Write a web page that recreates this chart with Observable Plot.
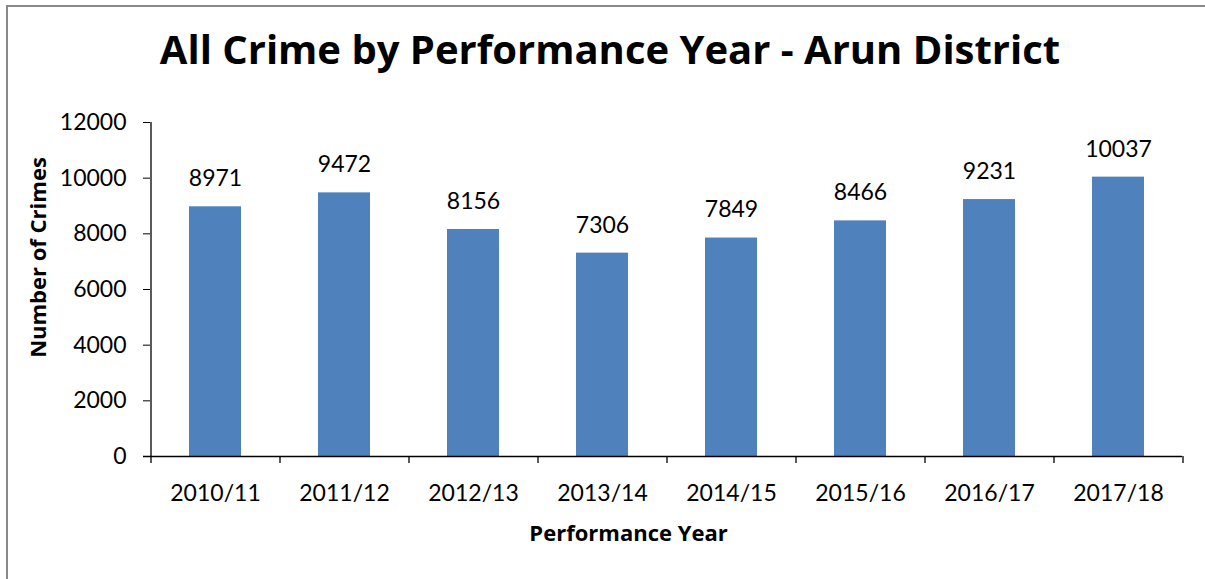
<!DOCTYPE html>
<html><head><meta charset="utf-8">
<script src="https://cdn.jsdelivr.net/npm/d3@7"></script>
<script src="https://cdn.jsdelivr.net/npm/@observablehq/plot@0.6"></script>
<style>
body{margin:0;background:#fff;}
#wrap{position:relative;width:1205px;height:579px;overflow:hidden;background:#fff;font-family:Lato,sans-serif;color:#000;}
#border{position:absolute;left:6px;top:5px;width:1400px;height:800px;border:2px solid #898989;box-sizing:border-box;z-index:2;pointer-events:none;}
#title{position:relative;height:100px;line-height:98px;text-align:center;font-family:"Open Sans",sans-serif;font-weight:bold;font-size:40px;padding-left:15px;white-space:nowrap;}
#chart{position:relative;}
</style>
</head><body>
<div id="wrap"><div id="border"></div><div id="title"></div><div id="chart"></div></div>
<script>
const categories = ["2010/11","2011/12","2012/13","2013/14","2014/15","2015/16","2016/17","2017/18"];
const crimes = [8971,9472,8156,7306,7849,8466,9231,10037];
const yTicks = [0,2000,4000,6000,8000,10000,12000];
const titleText = "All Crime by Performance Year - Arun District";
const yLabel = "Number of Crimes";
const xLabel = "Performance Year";

const data = categories.map((c,i)=>({year:c, crimes:crimes[i]}));
document.getElementById("title").textContent = titleText;

const W=1205,H=479,ML=150,MR=23,MT=22,MB=123;
const step=(W-ML-MR)/categories.length;
const frameH = H-MT-MB;
const plot = Plot.plot({
  width:W,height:H,marginLeft:ML,marginRight:MR,marginTop:MT,marginBottom:MB,
  style:{fontFamily:"Lato, sans-serif",fontSize:"23px",color:"#000",background:"transparent",overflow:"visible"},
  x:{type:"band",domain:categories,paddingInner:0.6,paddingOuter:0.3,label:null},
  y:{domain:[0,12000],label:null},
  marks:[
    Plot.barY(data,{x:"year",y:"crimes",fill:"#4F81BD"}),
    Plot.text(data,{x:"year",y:"crimes",text:d=>String(d.crimes),dy:-28,fontSize:23,fill:"#000"}),
    Plot.axisY({ticks:yTicks,tickSize:7,tickPadding:17,tickFormat:d=>String(d),label:null,stroke:"#000",fill:"#000"}),
    Plot.axisX({tickSize:0,tickPadding:28,label:null,fill:"#000"}),
    Plot.ruleY([0],{insetLeft:-7,stroke:"#000",strokeWidth:1.3}),
    Plot.ruleX([categories[0]],{dx:-step/2,stroke:"#000",strokeWidth:1.3}),
    Plot.ruleX(categories,{dx:-step/2,insetTop:frameH,insetBottom:-7,stroke:"#000",strokeWidth:1.3}),
    Plot.ruleX([categories[categories.length-1]],{dx:step/2,insetTop:frameH,insetBottom:-7,stroke:"#000",strokeWidth:1.3}),
    Plot.text([yLabel],{frameAnchor:"left",textAnchor:"middle",lineAnchor:"middle",dx:-112,dy:-32,rotate:-90,fontFamily:"Open Sans, sans-serif",fontWeight:"bold",fontSize:22,fill:"#000"}),
    Plot.text([xLabel],{frameAnchor:"bottom",textAnchor:"middle",lineAnchor:"middle",dx:-38,dy:77,fontFamily:"Open Sans, sans-serif",fontWeight:"bold",fontSize:22,fill:"#000"})
  ]
});
document.getElementById("chart").appendChild(plot);
</script>
</body></html>
